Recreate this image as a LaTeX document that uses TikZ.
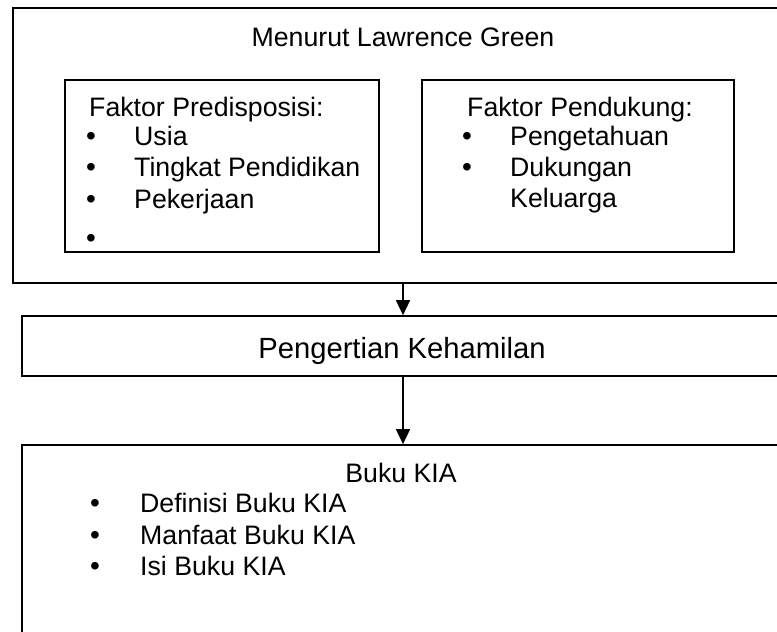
\documentclass[tikz,border=0pt]{standalone}
\usepackage{fontspec}
\setmainfont{Liberation Sans}
\usetikzlibrary{arrows.meta}
\begin{document}
\begin{tikzpicture}[x=1pt,y=-1pt,
  boxstyle/.style={draw=black,line width=1.7pt,inner sep=0pt,rectangle},
  txt/.style={inner sep=0pt,anchor=base west,font=\fontsize{26.7}{31}\selectfont},
  ctxt/.style={inner sep=0pt,anchor=base,font=\fontsize{26.7}{31}\selectfont},
  bul/.style={inner sep=0pt,anchor=base,font=\fontsize{28}{31}\selectfont},
  arr/.style={line width=1.6pt,-{Triangle[width=14pt,length=15pt]}}]
\useasboundingbox (0,0) rectangle (777,632);
\clip (0,0) rectangle (777,632);
\fill[white] (0,0) rectangle (777,632);
% boxes
\node[boxstyle,minimum width=780,minimum height=275] (outer) at (403,145.5) {};
\node[boxstyle,minimum width=314,minimum height=172] (pred) at (222,166) {};
\node[boxstyle,minimum width=312,minimum height=172] (pend) at (578,166) {};
\node[boxstyle,minimum width=762,minimum height=60] (peng) at (403,346) {};
\node[boxstyle,minimum width=762,minimum height=220] (buku) at (403,555) {};
% arrows
\draw[arr] (outer.south) -- (peng.north);
\draw[arr] (peng.south) -- (buku.north);
% texts
\node[ctxt] (t1) at (403,46.5) {Menurut Lawrence Green};
\node[txt] (p0) at (89,116) {Faktor Predisposisi:};
\node[bul] (pb1) at (91,145) {•};
\node[txt] (p1) at (134,145) {Usia};
\node[bul] (pb2) at (91,176) {•};
\node[txt] (p2) at (134,176) {Tingkat Pendidikan};
\node[bul] (pb3) at (91,208) {•};
\node[txt] (p3) at (134,208) {Pekerjaan};
\node[bul] (pb4) at (91,247) {•};
\node[txt] (d0) at (467,116) {Faktor Pendukung:};
\node[bul] (db1) at (467,145) {•};
\node[txt] (d1) at (510,145) {Pengetahuan};
\node[bul] (db2) at (467,176) {•};
\node[txt] (d2) at (510,176) {Dukungan};
\node[txt] (d3) at (510,207) {Keluarga};
\node[ctxt,font=\fontsize{29.2}{34}\selectfont] (t2) at (402,358) {Pengertian Kehamilan};
\node[ctxt] (k0) at (401,482) {Buku KIA};
\node[bul] (kb1) at (95,512) {•};
\node[txt] (k1) at (140,512) {Definisi Buku KIA};
\node[bul] (kb2) at (95,544) {•};
\node[txt] (k2) at (140,544) {Manfaat Buku KIA};
\node[bul] (kb3) at (95,575) {•};
\node[txt] (k3) at (140,575) {Isi Buku KIA};
\end{tikzpicture}
\end{document}
